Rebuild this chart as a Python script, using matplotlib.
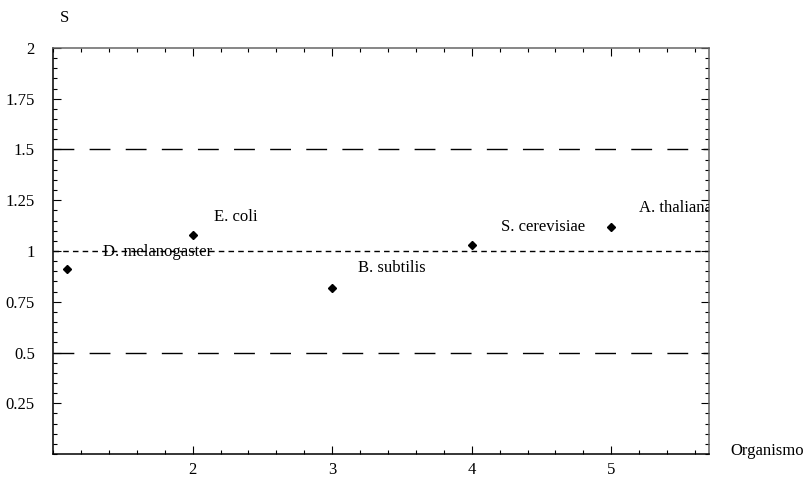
import matplotlib.pyplot as plt
from matplotlib.ticker import MultipleLocator

# organism index and S value
x_vals = [1.1, 2, 3, 4, 5]
s_vals = [0.91, 1.08, 0.82, 1.03, 1.12]
names = ["D. melanogaster", "E. coli", "B. subtilis", "S. cerevisiae", "A. thaliana"]
# where each name is written (left edge, vertical centre)
label_x = [1.36, 2.15, 3.185, 4.21, 5.195]
label_y = [0.993, 1.167, 0.916, 1.118, 1.212]

plt.rcParams['font.family'] = 'Liberation Serif'
plt.rcParams['font.size'] = 12

fig = plt.figure(figsize=(8.07, 4.78), dpi=100)
ax = fig.add_axes([0.0657, 0.0502, 0.8129, 0.8494])

# reference lines
ax.axhline(1.5, color='black', lw=1, dashes=(15, 11))
ax.axhline(0.5, color='black', lw=1, dashes=(15, 11))
ax.axhline(1.0, color='black', lw=1, dashes=(4, 3))

ax.plot(x_vals, s_vals, linestyle='none', marker='D', markersize=4.2,
        color='black', clip_on=False)

for name, tx, ty in zip(names, label_x, label_y):
    ax.text(tx, ty, name, ha='left', va='center', fontsize=12, clip_on=True)

ax.set_xlim(1.0, 5.7)
ax.set_ylim(0, 2)

ax.xaxis.set_major_locator(MultipleLocator(1))
ax.xaxis.set_minor_locator(MultipleLocator(0.2))
ax.yaxis.set_major_locator(MultipleLocator(0.25))
ax.yaxis.set_minor_locator(MultipleLocator(0.05))

ax.set_xticks([2, 3, 4, 5])
ax.set_xticklabels(['2', '3', '4', '5'])
ax.set_yticks([0.25, 0.5, 0.75, 1, 1.25, 1.5, 1.75, 2])
ax.set_yticklabels(['0.25', '0.5', '0.75', '1', '1.25', '1.5', '1.75', '2'])

ax.tick_params(which='both', direction='in', top=True, right=True,
               width=0.8, color='black')
ax.tick_params(which='major', length=6)
ax.tick_params(axis='y', which='major', pad=13)
ax.tick_params(axis='x', which='major', pad=6)
ax.tick_params(which='minor', length=3)

for side in ['left', 'bottom']:
    ax.spines[side].set_linewidth(1.1)
    ax.spines[side].set_color('black')
for side in ['top', 'right']:
    ax.spines[side].set_linewidth(1.1)
    ax.spines[side].set_color('#666666')

fig.text(60 / 807, 1 - 18 / 478, 'S', ha='left', va='center')
fig.text(730 / 807, 1 - 451 / 478, 'Organismo', ha='left', va='center')

fig.savefig('out.png', dpi=100)
